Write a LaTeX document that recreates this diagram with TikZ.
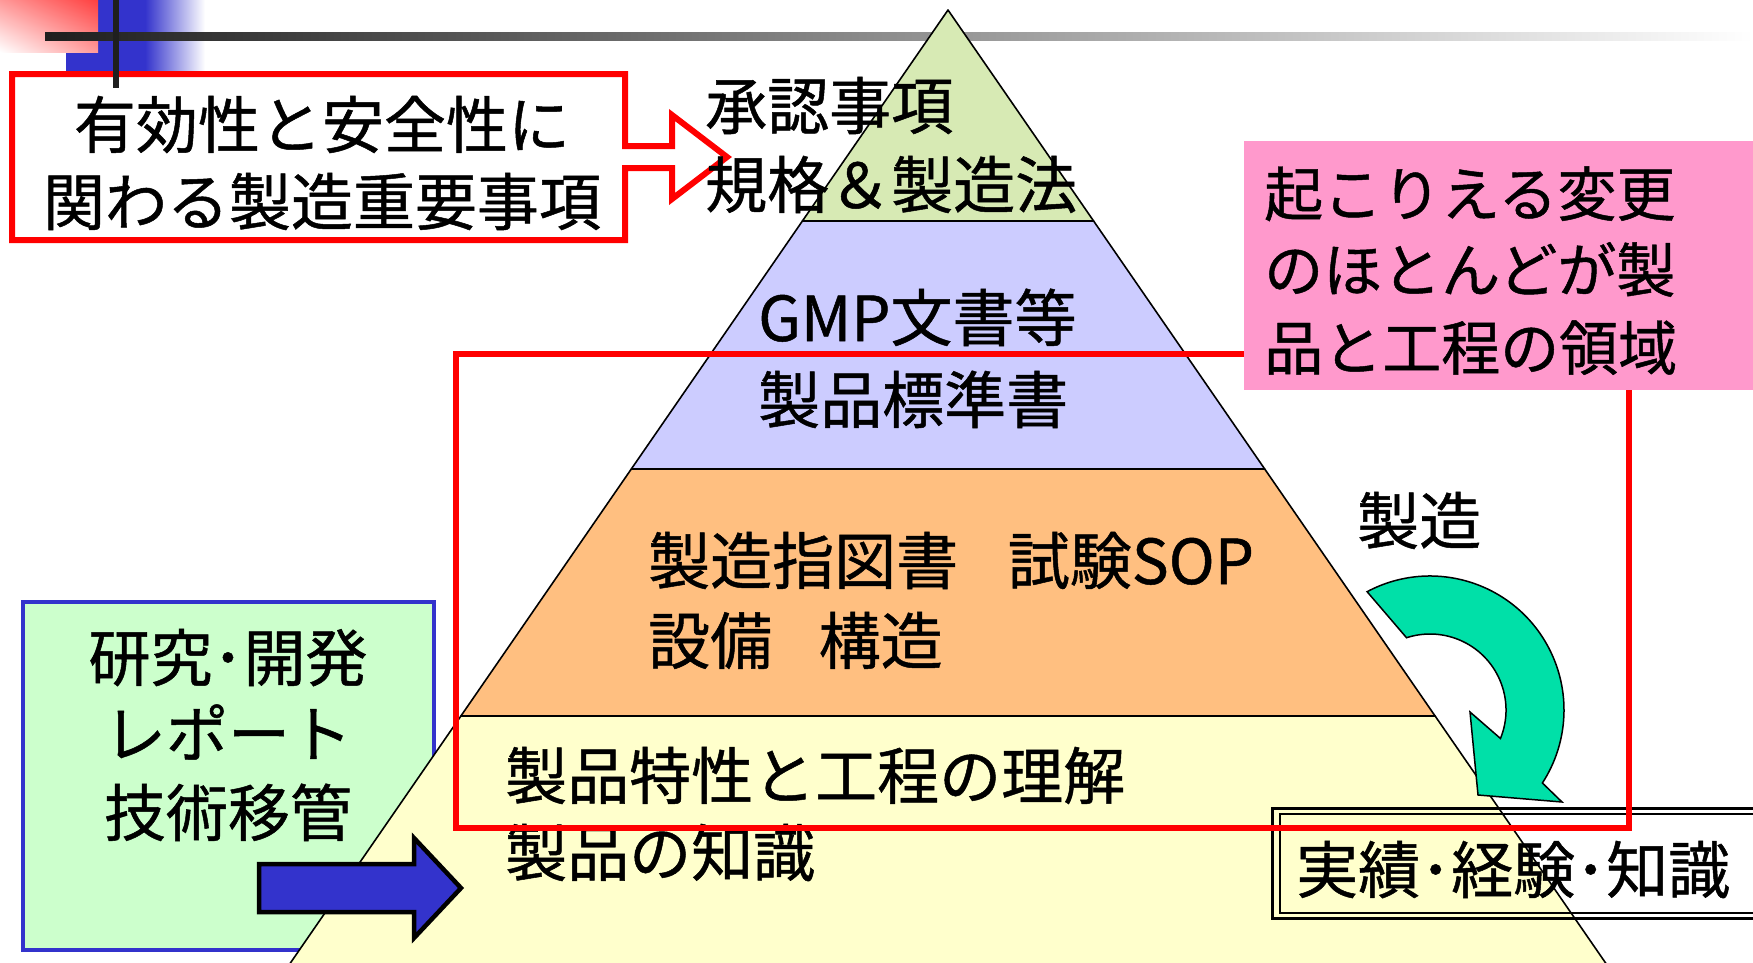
\documentclass[tikz,border=0pt]{standalone}
\usepackage{fontspec}
\usetikzlibrary{shadings}
\newfontfamily\jp{Noto Sans CJK JP}[FakeBold=0.8]
\definecolor{hdrblue}{HTML}{3333CC}
\definecolor{lgreen}{HTML}{D7EAB4}
\definecolor{lblue}{HTML}{CCCCFF}
\definecolor{lorange}{HTML}{FFBF80}
\definecolor{lyellow}{HTML}{FFFFCC}
\definecolor{lpink}{HTML}{FF99CC}
\definecolor{mint}{HTML}{CCFFCC}
\definecolor{turq}{HTML}{00E0A8}
\tikzset{
  jt/.style={font=\jp\fontsize{62}{74}\selectfont, inner sep=0pt, anchor=base west},
  jtc/.style={font=\jp\fontsize{62}{74}\selectfont, inner sep=0pt, anchor=base},
  jtp/.style={font=\jp\fontsize{59}{70}\selectfont, inner sep=0pt, anchor=base west},
  layer/.style={draw=black, line width=1.6pt, line join=round},
}
\begin{document}
\begin{tikzpicture}[x=1pt,y=1pt]
\useasboundingbox (0,0) rectangle (1753,-962);
\clip (0,0) rectangle (1753,-962);
\fill[white] (0,0) rectangle (1753,-962);
% header decoration
\fill[hdrblue] (66,0) rectangle (145,-77);
\shade[left color=hdrblue, right color=white] (145,0) rectangle (205,-77);
\shade[upper left=red!40, upper right=red!75, lower left=white, lower right=red!40] (0,0) rectangle (98,-52);
\shade[left color=black!88, right color=white] (45,-32) rectangle (1753,-40);
% red box with outlined arrow
\filldraw[draw=red, fill=white, line width=6pt, miter limit=10]
  (12,-74) -- (625,-74) -- (625,-146) -- (672,-146) -- (672,-115) -- (727,-157)
  -- (672,-199) -- (672,-168) -- (625,-168) -- (625,-240) -- (12,-240) -- cycle;
\fill[black!88] (113,0) rectangle (119,-88);
\node[jtc] (eff1) at (322,-148) {有効性と安全性に};
\node[jtc] (eff2) at (322,-225) {関わる製造重要事項};
% green box
\filldraw[draw=hdrblue, fill=mint, line width=4.5pt] (23,-602) rectangle (434,-950);
\node[jtc] (rd1) at (228,-681) {研究･開発};
\node[jtc] (rd2) at (228,-757) {レポート};
\node[jtc] (rd3) at (228,-836) {技術移管};
% pyramid
\filldraw[layer, fill=lyellow] (460.9,-716) -- (1435.1,-716) -- (1613.9,-975) -- (282.1,-975) -- cycle;
\filldraw[layer, fill=lorange] (631.3,-469) -- (1264.7,-469) -- (1435.1,-716) -- (460.9,-716) -- cycle;
\filldraw[layer, fill=lblue] (802.4,-221) -- (1093.6,-221) -- (1264.7,-469) -- (631.3,-469) -- cycle;
\filldraw[layer, fill=lgreen] (948,-10) -- (1093.6,-221) -- (802.4,-221) -- cycle;
\node[jt] (ap1) at (705,-129) {承認事項};
\node[jt] (ap2) at (705,-208) {規格＆製造法};
\node[jt] (gmp1) at (758,-341) {GMP文書等};
\node[jt] (gmp2) at (758,-423) {製品標準書};
\node[jt] (mf1) at (648,-584) {製造指図書\hspace{0.8em}試験SOP};
\node[jt] (mf2) at (648,-664) {設備\hspace{0.75em}構造};
\node[jt] (kn1) at (505,-799) {製品特性と工程の理解};
\node[jt] (kn2) at (505,-876) {製品の知識};
% blue arrow
\filldraw[draw=black, fill=hdrblue, line width=4.5pt, miter limit=10]
  (259,-864) -- (414,-864) -- (414,-838) -- (461,-888) -- (414,-938) -- (414,-912) -- (259,-912) -- cycle;
% double box
\draw[line width=3pt] (1272,-808) rectangle (1780,-918);
\draw[line width=2pt] (1280,-814) rectangle (1780,-913);
\node[jt] (exp) at (1296,-893) {実績･経験･知識};
% big red frame
\draw[red, line width=6pt] (456,-353.5) rectangle (1629,-828);
% pink box
\fill[lpink] (1244,-141) rectangle (1760,-390);
\node[jtp] (pk1) at (1264,-216) {起こりえる変更};
\node[jtp] (pk2) at (1264,-292) {のほとんどが製};
\node[jtp] (pk3) at (1264,-370) {品と工程の領域};
% curved arrow
\coordinate (c) at (1430,-710);
\filldraw[draw=black, fill=turq, line width=1.5pt, line join=miter]
  ([shift={(118:134)}]c) arc[start angle=118, end angle=-33, radius=134]
  -- (1562,-802) -- (1478,-795) -- (1470,-712)
  -- ([shift={(-22:76)}]c) arc[start angle=-22, end angle=108, radius=76]
  -- cycle;
\node[jt] (mfg) at (1357,-544) {製造};
\end{tikzpicture}
\end{document}
